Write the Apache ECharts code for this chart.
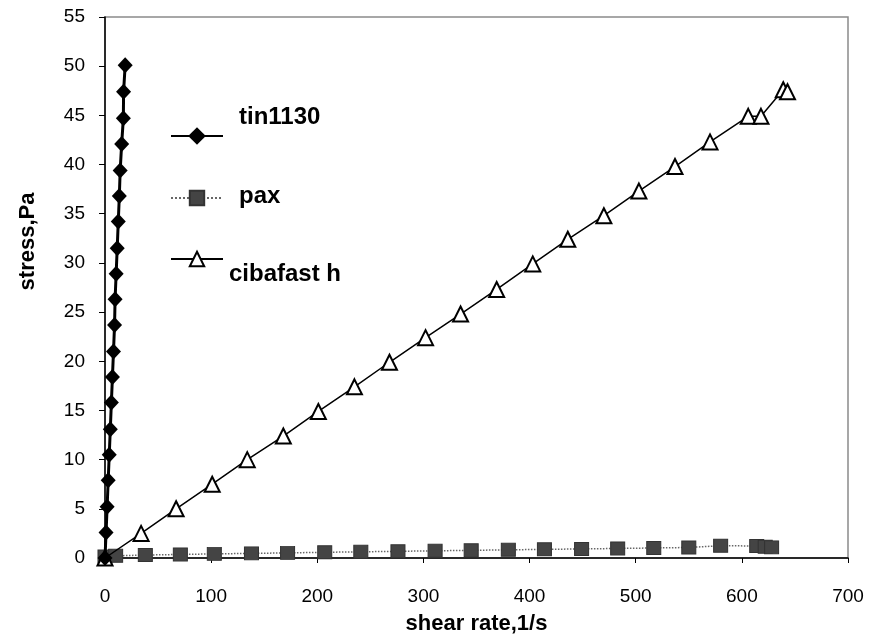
<!DOCTYPE html>
<html><head><meta charset="utf-8">
<script src="https://cdn.jsdelivr.net/npm/echarts@6/dist/echarts.min.js"></script>
<style>html,body{margin:0;padding:0;background:#fff}#c{width:872px;height:644px}</style>
</head><body><div id="c"></div>
<script>
const xTicks = [0,100,200,300,400,500,600,700];
const yTicks = [0,5,10,15,20,25,30,35,40,45,50,55];

const tinX = [0,1,2,3,4,5,6,7,8,9,9.5,10.5,11.5,12.5,13.5,14.3,15.7,17.3,17.5,19];
const tinY = [0,2.6,5.2,7.9,10.5,13.1,15.8,18.4,21.0,23.7,26.3,28.9,31.5,34.2,36.8,39.4,42.1,44.7,47.4,50.1];

const paxX = [0,10,38,71,103,138,172,207,241,276,311,345,380,414,449,483,517,550,580,614,622,628];
const paxY = [0.15,0.22,0.3,0.36,0.42,0.47,0.52,0.58,0.63,0.68,0.73,0.78,0.83,0.88,0.92,0.97,1.02,1.07,1.25,1.22,1.15,1.08];

const cibX = [0,34,67,101,134,168,201,235,268,302,335,369,403,436,470,503,537,570,606,618,639,643];
const cibY = [0,2.5,5.0,7.5,10.0,12.4,14.9,17.4,19.9,22.4,24.8,27.3,29.9,32.4,34.8,37.3,39.8,42.3,44.9,44.9,47.6,47.4];

const legendNames = ['tin1130','pax','cibafast h'];

const zip = (a,b) => a.map((v,i)=>[v,b[i]]);
const FONT = '"Liberation Sans", Arial, sans-serif';
const LFONT = 'bold 24px "Liberation Sans", Arial, sans-serif';

const chart = echarts.init(document.getElementById('c'));
chart.setOption({
  animation:false,
  backgroundColor:'#fff',
  grid:{left:105,right:24,top:17,bottom:86,show:true,borderColor:'#8a8a8a',borderWidth:1.5,backgroundColor:'transparent'},
  xAxis:{type:'value',min:0,max:700,interval:100,
    name:'shear rate,1/s',nameLocation:'middle',nameGap:55,
    nameTextStyle:{fontFamily:FONT,fontSize:22,fontWeight:'bold',color:'#000'},
    axisLine:{lineStyle:{color:'#000',width:1.5}},
    axisTick:{show:true,length:5,lineStyle:{color:'#000'}},
    axisLabel:{fontFamily:FONT,fontSize:19,color:'#000',margin:29},
    splitLine:{show:false}},
  yAxis:{type:'value',min:0,max:55,interval:5,
    name:'stress,Pa',nameLocation:'middle',nameGap:66,
    nameTextStyle:{fontFamily:FONT,fontSize:22,fontWeight:'bold',color:'#000',padding:[0,0,0,92]},
    axisLine:{show:true,lineStyle:{color:'#000',width:1.5}},
    axisTick:{show:true,length:6,lineStyle:{color:'#000'}},
    axisLabel:{fontFamily:FONT,fontSize:19,color:'#000',margin:20},
    splitLine:{show:false}},
  legend:[
    {data:[legendNames[0]],left:165,top:120,itemWidth:52,itemHeight:22,formatter:()=>'',textStyle:{fontSize:1}},
    {data:[legendNames[1]],left:165,top:184,itemWidth:52,itemHeight:18,formatter:()=>'',textStyle:{fontSize:1}},
    {data:[legendNames[2]],left:165,top:245,itemWidth:52,itemHeight:18,formatter:()=>'',textStyle:{fontSize:1}}
  ],
  graphic:[
    {type:'text',x:239,y:117,style:{text:legendNames[0],font:LFONT,fill:'#000',verticalAlign:'middle'}},
    {type:'text',x:239,y:196,style:{text:legendNames[1],font:LFONT,fill:'#000',verticalAlign:'middle'}},
    {type:'text',x:229,y:274,style:{text:legendNames[2],font:LFONT,fill:'#000',verticalAlign:'middle'}}
  ],
  series:[
    {name:'pax',type:'line',data:zip(paxX,paxY),symbol:'rect',symbolSize:[14,13],
     lineStyle:{color:'#666',width:1.5,type:'dotted'},itemStyle:{color:'#444',borderColor:'#333',borderWidth:1},z:2},
    {name:'cibafast h',type:'line',data:zip(cibX,cibY),symbol:'triangle',symbolSize:15,
     lineStyle:{color:'#000',width:1.5},itemStyle:{color:'#fff',borderColor:'#000',borderWidth:2},z:3},
    {name:'tin1130',type:'line',data:zip(tinX,tinY),symbol:'diamond',symbolSize:[15,16],
     lineStyle:{color:'#000',width:3},itemStyle:{color:'#000'},z:4}
  ]
});
</script></body></html>
